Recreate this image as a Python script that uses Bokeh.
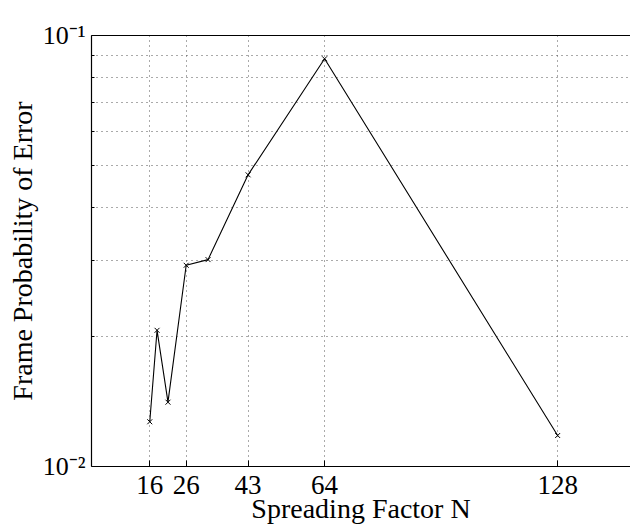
from bokeh.plotting import figure
from bokeh.models import Range1d, FixedTicker, LinearAxis
from bokeh.embed import file_html
from bokeh.resources import INLINE

# data
spreading_factor = [16, 18, 21, 26, 32, 43, 64, 128]
frame_error_prob = [0.0127, 0.0207, 0.0141, 0.0293, 0.0302, 0.0475, 0.0883, 0.0118]
x_tick_values = [16, 26, 43, 64, 128]
y_major_ticks = [0.01, 0.1]
y_minor_ticks = [0.02, 0.03, 0.04, 0.05, 0.06, 0.07, 0.08, 0.09]
y_tick_labels = {0.01: "10\u207b\u00b2", 0.1: "10\u207b\u00b9"}
x_label = "Spreading Factor N"
y_label = "Frame Probability of Error"

FONT = "Liberation Serif"

p = figure(width=630, height=526, y_axis_type="log",
           x_range=Range1d(0, 148), y_range=Range1d(0.01, 0.1),
           output_backend="svg", toolbar_location=None,
           min_border_left=91, min_border_right=0, min_border_top=35,
           min_border_bottom=59)
p.background_fill_color = "white"
p.border_fill_color = "white"
p.outline_line_color = None

# x axis
xa = p.xaxis[0]
xa.ticker = FixedTicker(ticks=x_tick_values)
xa.axis_label = x_label
xa.axis_label_text_font = FONT
xa.axis_label_text_font_style = "normal"
xa.axis_label_text_font_size = "28px"
xa.axis_label_text_color = "black"
xa.axis_label_standoff = -4
xa.major_label_text_font = FONT
xa.major_label_text_font_size = "27px"
xa.major_label_text_color = "black"
xa.major_label_standoff = 9
xa.major_tick_in = 6
xa.major_tick_out = 0
xa.minor_tick_in = 0
xa.minor_tick_out = 0
xa.axis_line_color = "black"
xa.axis_line_width = 1.2

# top axis line (box)
top = LinearAxis(ticker=FixedTicker(ticks=[]))
top.major_label_standoff = 0
top.major_tick_in = 0
top.major_tick_out = 0
top.minor_tick_in = 0
top.minor_tick_out = 0
top.axis_line_color = "black"
top.axis_line_width = 1.2
p.add_layout(top, "above")

# y axis
ya = p.yaxis[0]
ya.ticker = FixedTicker(ticks=y_major_ticks, minor_ticks=y_minor_ticks)
ya.major_label_overrides = y_tick_labels
ya.axis_label = y_label
ya.axis_label_text_font = FONT
ya.axis_label_text_font_style = "normal"
ya.axis_label_text_font_size = "28px"
ya.axis_label_text_color = "black"
ya.axis_label_standoff = 2
ya.major_label_text_font = FONT
ya.major_label_text_font_size = "26px"
ya.major_label_text_color = "black"
ya.major_label_standoff = 6
ya.major_tick_in = 6
ya.major_tick_out = 0
ya.minor_tick_in = 3
ya.minor_tick_out = 0
ya.axis_line_color = "black"
ya.axis_line_width = 1.2

# grids
p.xgrid.ticker = FixedTicker(ticks=x_tick_values)
p.xgrid.grid_line_color = "#555555"
p.xgrid.grid_line_dash = "1 4"
p.xgrid.grid_line_width = 1
p.ygrid.grid_line_color = None
p.ygrid.minor_grid_line_color = "#555555"
p.ygrid.minor_grid_line_dash = "1 4"
p.ygrid.minor_grid_line_width = 1

p.line(spreading_factor, frame_error_prob, line_color="black", line_width=1.1)
p.scatter(spreading_factor, frame_error_prob, marker="x", size=7,
          line_color="black", line_width=1)

open("out.html", "w").write(file_html(p, INLINE))
